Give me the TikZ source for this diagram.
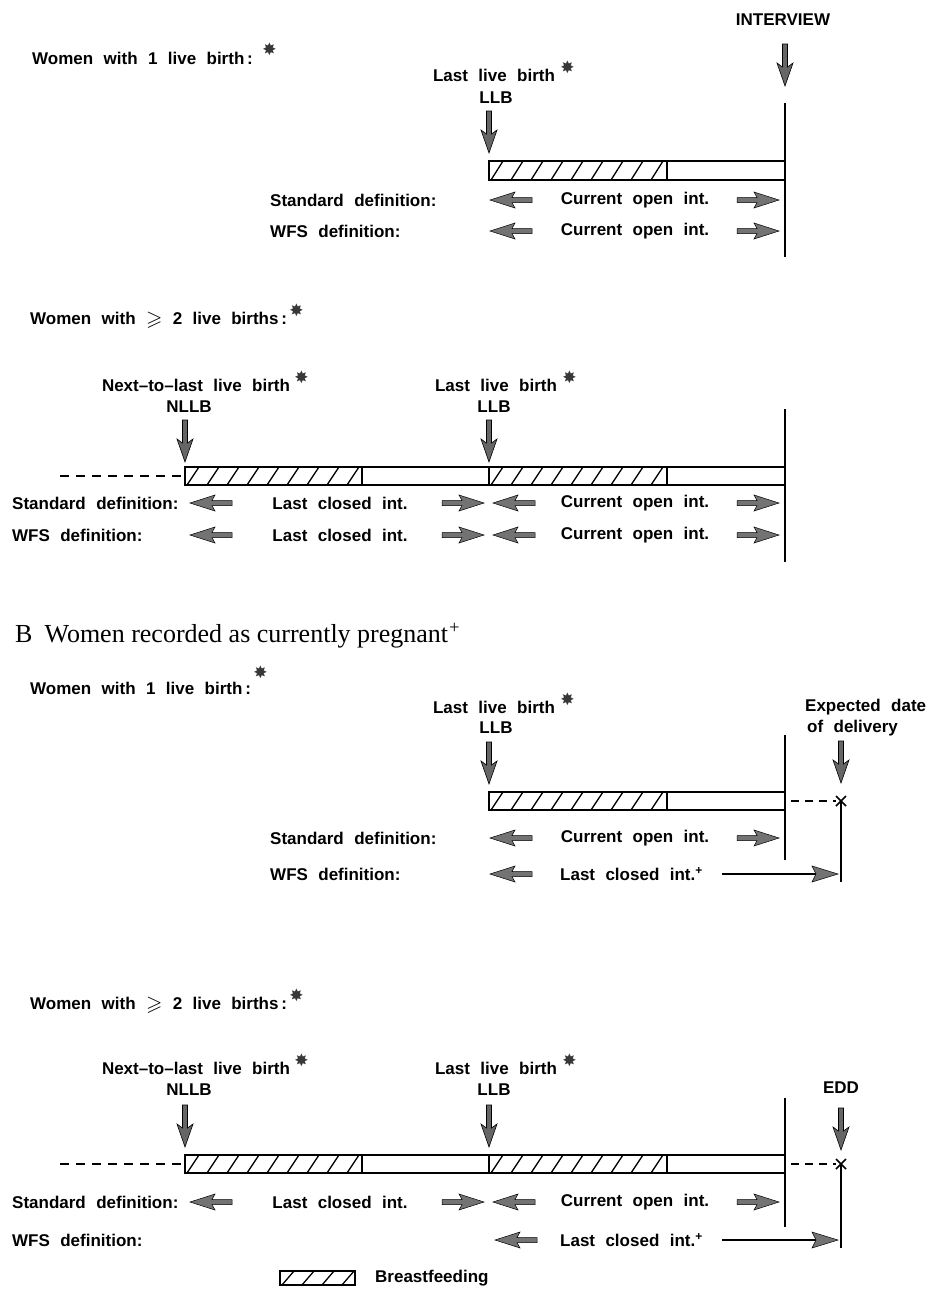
\documentclass[tikz,border=0pt]{standalone}
\usepackage{amssymb}
\usepackage{fontspec}
\usetikzlibrary{calc}
\setmainfont{Liberation Sans}[WordSpace=2.2]
\newfontfamily\serifface{Liberation Serif}
\newfontfamily\symface{DejaVu Sans}
\newcommand\hatchzone[4]{%
  \begin{scope}
    \clip (#1,#3) rectangle (#2,#4);
    \foreach \k in {0,...,13}{\draw[hatchl] ({#1+2+20*\k},#4) -- ++(12,{#3-#4});}
  \end{scope}
  \draw[barline] (#2,#3) -- (#2,#4);
}
\newcommand\astx{\symface ✸}
\newcommand\mygeq{\raisebox{-1pt}{\fontsize{21}{21}\selectfont$\geqslant$}}
\begin{document}
\begin{tikzpicture}[x=1pt,y=-1pt,
  lbl/.style={font=\bfseries\fontsize{17}{19}\selectfont, inner sep=0pt},
  ast/.style={font=\fontsize{17}{17}\selectfont, inner sep=0pt, text=black!78, anchor=west},
  barline/.style={line width=1.6pt},
  hatchl/.style={line width=1.3pt},
  vline/.style={line width=1.6pt},
  dline/.style={line width=1.4pt, dash pattern=on 9pt off 7pt},
  eddash/.style={line width=1.4pt, dash pattern=on 8pt off 6pt},
  dnarrow/.pic={\filldraw[fill=black!60, draw=black, line width=0.6pt]
     (-2.5,0) -- (2.5,0) -- (2.5,23) -- (8,19) -- (0,42) -- (-8,19) -- (-2.5,23) -- cycle;},
  rarrow/.pic={\filldraw[fill=black!55, draw=black, line width=0.5pt]
     (-21,-2.5) -- (-1,-2.5) -- (-4,-8) -- (21,0) -- (-4,8) -- (-1,2.5) -- (-21,2.5) -- cycle;},
  larrow/.pic={\filldraw[fill=black!55, draw=black, line width=0.5pt]
     (21,-2.5) -- (1,-2.5) -- (4,-8) -- (-21,0) -- (4,8) -- (1,2.5) -- (21,2.5) -- cycle;},
  xmark/.pic={\draw[line width=1.5pt] (-5,-5) -- (5,5) (-5,5) -- (5,-5);},
  longhead/.pic={\filldraw[fill=black!55, draw=black, line width=0.5pt]
     (-26,-8) -- (0,0) -- (-26,8) -- (-22,0) -- cycle;}
]
\useasboundingbox (0,0) rectangle (929,1291);
\fill[white] (0,0) rectangle (929,1291);

% ================= A1 =================
\node[lbl] (intv) at (783,20) {INTERVIEW};
\coordinate (intvT) at (785,44);
\pic at (intvT) {dnarrow};
\node[lbl, anchor=west] (a1w) at (32,58) {Women with 1 live birth\,:};
\node[ast] (a1wa) at ($(a1w.east)+(9,-9)$) {\astx};
\node[lbl] (a1l) at (494,75) {Last live birth};
\node[ast] (a1la) at ($(a1l.east)+(5,-8)$) {\astx};
\node[lbl] (a1llb) at (496,98) {LLB};
\coordinate (a1arr) at (489,111);
\pic at (a1arr) {dnarrow};
\hatchzone{489}{667}{161}{180}
\draw[barline] (489,161) rectangle (785,180);
\coordinate (a1vt) at (785,103); \coordinate (a1vb) at (785,257);
\draw[vline] (a1vt) -- (a1vb);
\node[lbl, anchor=west] (a1sd) at (270,200) {Standard definition:};
\pic at (511,200) {larrow};
\node[lbl] (a1sc) at (635,200) {Current open int.};
\pic at (758,200) {rarrow};
\node[lbl, anchor=west] (a1wd) at (270,231) {WFS definition:};
\pic at (511,231) {larrow};
\node[lbl] (a1wc) at (635,231) {Current open int.};
\pic at (758,231) {rarrow};

% ================= A2 =================
\node[lbl, anchor=west] (a2w) at (30,320) {Women with \mygeq\ 2 live births\,:};
\node[ast] (a2wa) at ($(a2w.east)+(2,-10)$) {\astx};
\node[lbl] (a2n) at (196,385) {Next--to--last live birth};
\node[ast] (a2na) at ($(a2n.east)+(4,-8)$) {\astx};
\node[lbl] (a2nl) at (189,407) {NLLB};
\node[lbl] (a2l) at (496,385) {Last live birth};
\node[ast] (a2la) at ($(a2l.east)+(5,-8)$) {\astx};
\node[lbl] (a2llb) at (494,407) {LLB};
\coordinate (a2arrN) at (185,420); \pic at (a2arrN) {dnarrow};
\coordinate (a2arrL) at (489,420); \pic at (a2arrL) {dnarrow};
\coordinate (a2d0) at (60,476); \coordinate (a2d1) at (185,476);
\draw[dline] (a2d0) -- (a2d1);
\hatchzone{185}{362}{467}{485}
\hatchzone{489}{667}{467}{485}
\draw[barline] (185,467) rectangle (785,485);
\draw[line width=1.2pt] (489,467) -- (489,485);
\coordinate (a2vt) at (785,409); \coordinate (a2vb) at (785,562);
\draw[vline] (a2vt) -- (a2vb);
\node[lbl, anchor=west] (a2sd) at (12,503) {Standard definition:};
\pic at (211,503) {larrow};
\node[lbl] (a2s1) at (340,503) {Last closed int.};
\pic at (463,503) {rarrow};
\pic at (514,503) {larrow};
\node[lbl] (a2s2) at (635,503) {Current open int.};
\pic at (758,503) {rarrow};
\node[lbl, anchor=west] (a2wd) at (12,535) {WFS definition:};
\pic at (211,535) {larrow};
\node[lbl] (a2w1) at (340,535) {Last closed int.};
\pic at (463,535) {rarrow};
\pic at (514,535) {larrow};
\node[lbl] (a2w2) at (635,535) {Current open int.};
\pic at (758,535) {rarrow};

% ================= B heading =================
\node[anchor=west, inner sep=0pt, font=\serifface\fontsize{26}{28}\selectfont] (bh) at (15,636)
  {B\hspace{12pt}Women recorded as currently pregnant\textsuperscript{\itshape +}};

% ================= B1 =================
\node[lbl, anchor=west] (b1w) at (30,688) {Women with 1 live birth\,:};
\node[ast] (b1wa) at ($(b1w.east)+(2,-16)$) {\astx};
\node[lbl] (b1l) at (494,707) {Last live birth};
\node[ast] (b1la) at ($(b1l.east)+(5,-8)$) {\astx};
\node[lbl] (b1llb) at (496,728) {LLB};
\node[lbl, anchor=west] (b1e1) at (805,707) {Expected date};
\node[lbl, anchor=west] (b1e2) at (807,728) {of delivery};
\coordinate (b1arrL) at (489,742); \pic at (b1arrL) {dnarrow};
\coordinate (b1arrE) at (841,741); \pic at (b1arrE) {dnarrow};
\hatchzone{489}{667}{792}{810}
\draw[barline] (489,792) rectangle (785,810);
\coordinate (b1vt) at (785,735); \coordinate (b1vb) at (785,860);
\draw[vline] (b1vt) -- (b1vb);
\coordinate (b1x) at (841,801);
\coordinate (b1d0) at (791,801);
\draw[eddash] (b1d0) -- ($(b1x)+(-5,0)$);
\pic at (b1x) {xmark};
\coordinate (b1eb) at (841,882);
\draw[vline] (b1x) -- (b1eb);
\node[lbl, anchor=west] (b1sd) at (270,838) {Standard definition:};
\pic at (511,838) {larrow};
\node[lbl] (b1sc) at (635,838) {Current open int.};
\pic at (758,838) {rarrow};
\node[lbl, anchor=west] (b1wd) at (270,874) {WFS definition:};
\pic at (511,874) {larrow};
\node[lbl, anchor=west] (b1wc) at (560,874) {Last closed int.\textsuperscript{+}};
\coordinate (b1la0) at (722,874); \coordinate (b1la1) at (838,874);
\draw[line width=1.4pt] (b1la0) -- ($(b1la1)+(-22,0)$);
\pic at (b1la1) {longhead};

% ================= B2 =================
\node[lbl, anchor=west] (b2w) at (30,1005) {Women with \mygeq\ 2 live births\,:};
\node[ast] (b2wa) at ($(b2w.east)+(2,-10)$) {\astx};
\node[lbl] (b2n) at (196,1068) {Next--to--last live birth};
\node[ast] (b2na) at ($(b2n.east)+(4,-8)$) {\astx};
\node[lbl] (b2nl) at (189,1090) {NLLB};
\node[lbl] (b2l) at (496,1068) {Last live birth};
\node[ast] (b2la) at ($(b2l.east)+(5,-8)$) {\astx};
\node[lbl] (b2llb) at (494,1090) {LLB};
\node[lbl] (b2edd) at (841,1088) {EDD};
\coordinate (b2arrN) at (185,1105); \pic at (b2arrN) {dnarrow};
\coordinate (b2arrL) at (489,1105); \pic at (b2arrL) {dnarrow};
\coordinate (b2arrE) at (841,1108); \pic at (b2arrE) {dnarrow};
\coordinate (b2d0) at (60,1164); \coordinate (b2d1) at (185,1164);
\draw[dline] (b2d0) -- (b2d1);
\hatchzone{185}{362}{1155}{1173}
\hatchzone{489}{667}{1155}{1173}
\draw[barline] (185,1155) rectangle (785,1173);
\draw[line width=1.2pt] (489,1155) -- (489,1173);
\coordinate (b2vt) at (785,1098); \coordinate (b2vb) at (785,1227);
\draw[vline] (b2vt) -- (b2vb);
\coordinate (b2x) at (841,1164);
\coordinate (b2dd) at (791,1164);
\draw[eddash] (b2dd) -- ($(b2x)+(-5,0)$);
\pic at (b2x) {xmark};
\coordinate (b2eb) at (841,1248);
\draw[vline] (b2x) -- (b2eb);
\node[lbl, anchor=west] (b2sd) at (12,1202) {Standard definition:};
\pic at (211,1202) {larrow};
\node[lbl] (b2s1) at (340,1202) {Last closed int.};
\pic at (463,1202) {rarrow};
\pic at (514,1202) {larrow};
\node[lbl] (b2s2) at (635,1202) {Current open int.};
\pic at (758,1202) {rarrow};
\node[lbl, anchor=west] (b2wd) at (12,1240) {WFS definition:};
\pic at (516,1240) {larrow};
\node[lbl, anchor=west] (b2wc) at (560,1240) {Last closed int.\textsuperscript{+}};
\coordinate (b2la0) at (722,1240); \coordinate (b2la1) at (838,1240);
\draw[line width=1.4pt] (b2la0) -- ($(b2la1)+(-22,0)$);
\pic at (b2la1) {longhead};

% ================= legend =================
\hatchzone{280}{355}{1271}{1285}
\draw[barline] (280,1271) rectangle (355,1285);
\node[lbl, anchor=west] (leg) at (375,1278) {Breastfeeding};
\end{tikzpicture}
\end{document}
